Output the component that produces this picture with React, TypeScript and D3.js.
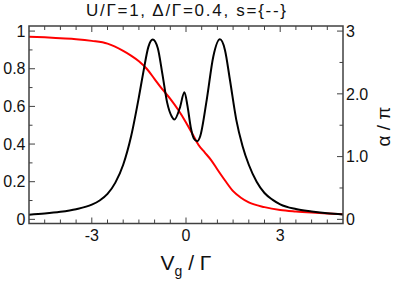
import { useEffect, useRef } from 'react';
import * as d3 from 'd3';

// conductance G (left axis, 0..1)
const gX = [-5, -4.5, -4, -3.5, -3, -2.75, -2.5, -2.25, -2, -1.75, -1.5, -1.35, -1.2, -1.06, -0.9, -0.75, -0.6, -0.45, -0.37, -0.2, -0.05, 0.05, 0.15, 0.25, 0.36, 0.45, 0.66, 0.87, 1.08, 1.24, 1.4, 1.6, 1.8, 2, 2.25, 2.5, 2.75, 3, 3.5, 4, 4.5, 5];
const gY = [0.025, 0.031, 0.04, 0.054, 0.078, 0.1, 0.135, 0.195, 0.29, 0.44, 0.65, 0.79, 0.915, 0.955, 0.91, 0.77, 0.62, 0.545, 0.53, 0.59, 0.675, 0.6, 0.49, 0.43, 0.415, 0.44, 0.635, 0.865, 0.956, 0.9, 0.74, 0.53, 0.39, 0.29, 0.2, 0.14, 0.105, 0.08, 0.055, 0.042, 0.032, 0.026];

// phase alpha / pi (right axis, 0..3)
const aX = [-5, -4.5, -4, -3.5, -3, -2.5, -2, -1.75, -1.5, -1.25, -1, -0.75, -0.5, -0.25, 0, 0.25, 0.4, 0.6, 0.8, 1, 1.25, 1.5, 1.75, 2, 2.5, 3, 3.5, 4, 4.5, 5];
const aY = [2.91, 2.9, 2.886, 2.871, 2.844, 2.8, 2.685, 2.61, 2.52, 2.4, 2.235, 2.07, 1.92, 1.746, 1.545, 1.32, 1.185, 1.065, 0.945, 0.795, 0.615, 0.45, 0.345, 0.27, 0.195, 0.15, 0.126, 0.108, 0.093, 0.081];

const xTicks = [-3, 0, 3];
const leftTicks = [0, 0.2, 0.4, 0.6, 0.8, 1];
const leftLabels = ['0', '0.2', '0.4', '0.6', '0.8', '1'];
const rightTicks = [0, 1, 2, 3];
const rightLabels = ['0', '1.0', '2.0', '3'];

const title = 'U/\u0393=1, \u0394/\u0393=0.4, s={--}';

export default function App() {
  const svgRef = useRef<SVGSVGElement>(null);

  useEffect(() => {
    document.body.style.margin = '0';
    const svg = d3.select(svgRef.current);
    svg.selectAll('*').remove();

    const left = 29, right = 343, top = 26, bottom = 223.5;
    const font = '"Liberation Sans", Arial, Helvetica, sans-serif';
    const frame = '#404040';

    const x = d3.scaleLinear().domain([-5, 5]).range([left, right]);
    const y = d3.scaleLinear().domain([-0.022, 1.027]).range([bottom, top]);
    const yR = d3.scaleLinear().domain([-0.066, 3.081]).range([bottom, top]);

    const g = svg.append('g');

    // curves
    const gData = gX.map((v, i) => [v, gY[i]] as [number, number]);
    const aData = aX.map((v, i) => [v, aY[i]] as [number, number]);

    g.append('path')
      .datum(aData)
      .attr('fill', 'none')
      .attr('stroke', '#ff0000')
      .attr('stroke-width', 2)
      .attr('d', d3.line<[number, number]>().x(d => x(d[0])).y(d => yR(d[1])).curve(d3.curveMonotoneX));

    g.append('path')
      .datum(gData)
      .attr('fill', 'none')
      .attr('stroke', '#000')
      .attr('stroke-width', 2)
      .attr('d', d3.line<[number, number]>().x(d => x(d[0])).y(d => y(d[1])).curve(d3.curveMonotoneX));

    // ticks (inward)
    const ticks = g.append('g').attr('stroke', frame).attr('stroke-width', 1);
    d3.range(-4.5, 4.75, 0.5).forEach(t => {
      const len = xTicks.includes(t) ? 6 : 4;
      ticks.append('line').attr('x1', x(t)).attr('x2', x(t)).attr('y1', bottom).attr('y2', bottom - len);
      ticks.append('line').attr('x1', x(t)).attr('x2', x(t)).attr('y1', top).attr('y2', top + len);
    });
    d3.range(0, 1.05, 0.1).forEach(t => {
      const major = Math.abs(t * 5 - Math.round(t * 5)) < 1e-6;
      ticks.append('line').attr('x1', left).attr('x2', left + (major ? 6 : 3.5)).attr('y1', y(t)).attr('y2', y(t));
    });
    d3.range(0, 3.1, 0.5).forEach(t => {
      const major = Math.abs(t - Math.round(t)) < 1e-6;
      ticks.append('line').attr('x1', right).attr('x2', right - (major ? 6 : 3.5)).attr('y1', yR(t)).attr('y2', yR(t));
    });

    // frame
    g.append('rect')
      .attr('x', left).attr('y', top)
      .attr('width', right - left).attr('height', bottom - top)
      .attr('fill', 'none').attr('stroke', frame).attr('stroke-width', 1.5);

    // labels
    const txt = g.append('g').attr('font-family', font).attr('fill', '#111');
    txt.selectAll('.xl').data(xTicks).enter().append('text')
      .attr('x', d => x(d)).attr('y', 241)
      .attr('text-anchor', 'middle').attr('font-size', 16)
      .text(d => String(d));
    txt.selectAll('.yl').data(leftTicks).enter().append('text')
      .attr('x', 25.5).attr('y', d => y(d)).attr('dy', '0.36em')
      .attr('text-anchor', 'end').attr('font-size', 16)
      .text((d, i) => leftLabels[i]);
    txt.selectAll('.yr').data(rightTicks).enter().append('text')
      .attr('x', 346).attr('y', d => yR(d)).attr('dy', '0.36em')
      .attr('text-anchor', 'start').attr('font-size', 16)
      .text((d, i) => rightLabels[i]);

    txt.append('text')
      .attr('x', 186).attr('y', 16)
      .attr('text-anchor', 'middle').attr('font-size', 17)
      .attr('textLength', 200).attr('lengthAdjust', 'spacing')
      .text(title);

    const xl = txt.append('text')
      .attr('x', 186).attr('y', 270)
      .attr('text-anchor', 'middle').attr('font-size', 21);
    xl.append('tspan').text('V');
    xl.append('tspan').attr('font-size', 14).attr('dy', 6).text('g');
    xl.append('tspan').attr('dy', -6).text(' / \u0393');

    txt.append('text')
      .attr('transform', `translate(390,126.5) rotate(-90)`)
      .attr('text-anchor', 'middle').attr('font-size', 19)
      .text('\u03b1 / \u03c0');
  }, []);

  return <svg ref={svgRef} width={395} height={284} style={{ display: 'block', background: '#fff' }} />;
}
